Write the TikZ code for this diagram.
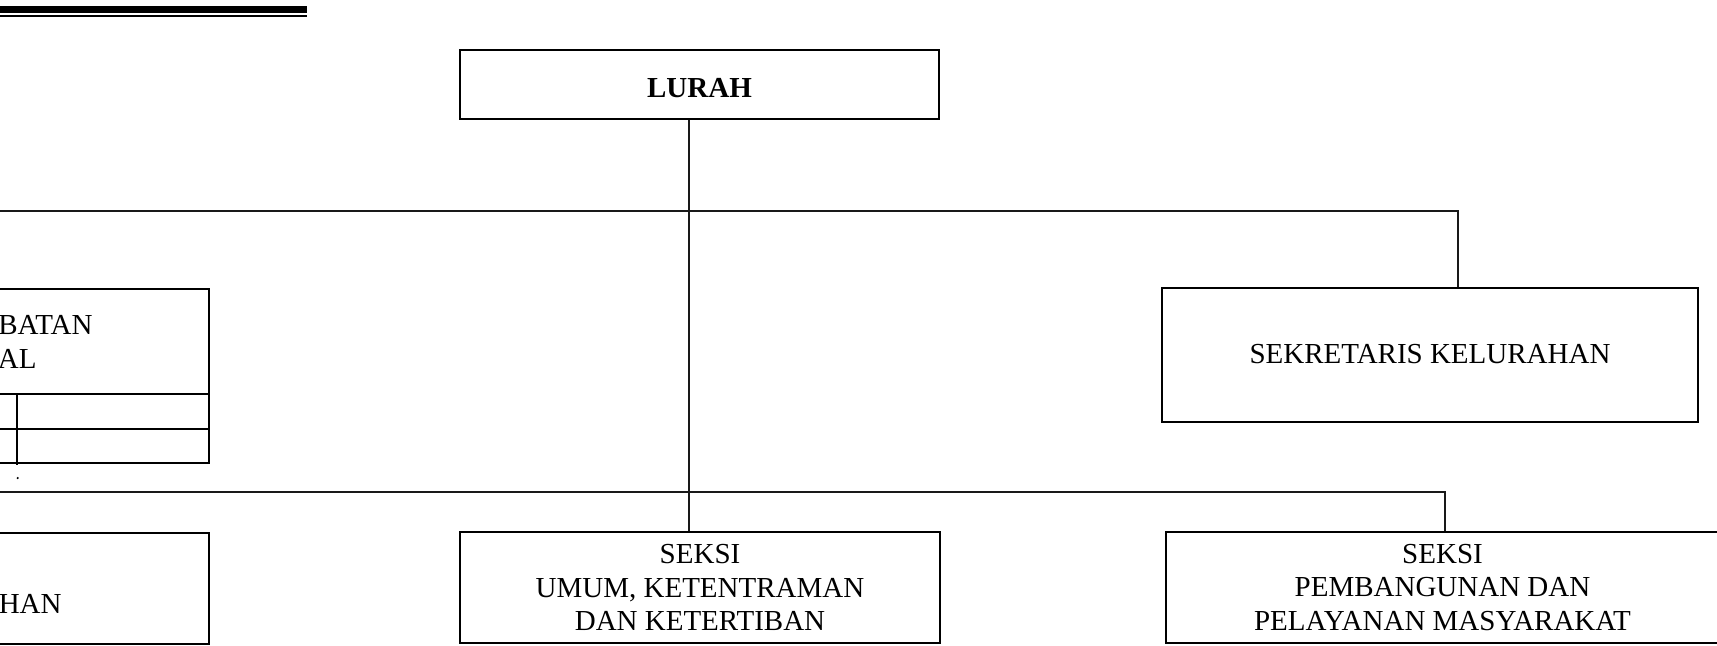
\documentclass[tikz,border=0pt]{standalone}
\usepackage{fontspec}
\setmainfont{Liberation Serif}
\begin{document}
\begin{tikzpicture}[x=0.5pt,y=-0.5pt,
  box/.style={draw=black,line width=1pt,rectangle,inner sep=0pt,align=center,
    font=\fontsize{14.5pt}{16.75pt}\selectfont},
  lbl/.style={inner sep=0pt,font=\fontsize{14.5pt}{16.75pt}\selectfont},
  conn/.style={draw=black!90,line width=1pt}]
\useasboundingbox (0,0) rectangle (1717,645);
\clip (0,0) rectangle (1717,645);
% top double rule
\draw[line width=3.5pt] (0,9) -- (307,9);
\draw[line width=1.25pt] (0,16) -- (307,16);
% boxes
\node[box,minimum width=239.5pt,minimum height=34.25pt,text height=13.1pt,text depth=0pt] (lurah) at (699.5,84.25) {\textbf{LURAH}};
\node[box,minimum width=268pt,minimum height=67pt] (sek) at (1430,354.5) {SEKRETARIS KELURAHAN};
\node[box,minimum width=114.5pt,minimum height=87pt] (fung) at (94.5,376) {};
\node[lbl,anchor=east] (f1) at (93,325) {BATAN};
\node[lbl,anchor=east] (f2) at (37,359) {AL};
\draw[line width=1pt] (fung.west |- 0,394) -- (fung.east |- 0,394);
\draw[line width=1pt] (fung.west |- 0,429) -- (fung.east |- 0,429);
\draw[line width=1pt] (17,394) -- (17,465);
\fill (17.7,478) circle (0.6pt);
\node[box,minimum width=114.5pt,minimum height=55.65pt] (pem) at (94.5,588.4) {};
\node[lbl,anchor=east] (p1) at (62,604) {HAN};
\node[box,minimum width=240pt,minimum height=55.65pt] (umum) at (700,587.8) {SEKSI\\UMUM, KETENTRAMAN\\DAN KETERTIBAN};
\node[box,minimum width=276.5pt,minimum height=55.8pt] (pemb) at (1442.5,587.5) {SEKSI\\PEMBANGUNAN DAN\\PELAYANAN MASYARAKAT};
% connectors
\coordinate (sp) at (689,0);
\coordinate (sv) at (1458,0);
\coordinate (pv) at (1445,0);
\coordinate (l1) at (0,210.7);
\coordinate (l2) at (0,491.5);
\draw[conn] (lurah.south -| sp) -- (umum.north -| sp);
\draw[conn] (l1) -- (l1 -| sv) -- (sek.north -| sv);
\draw[conn] (l2) -- (l2 -| pv) -- (pemb.north -| pv);
\end{tikzpicture}
\end{document}
